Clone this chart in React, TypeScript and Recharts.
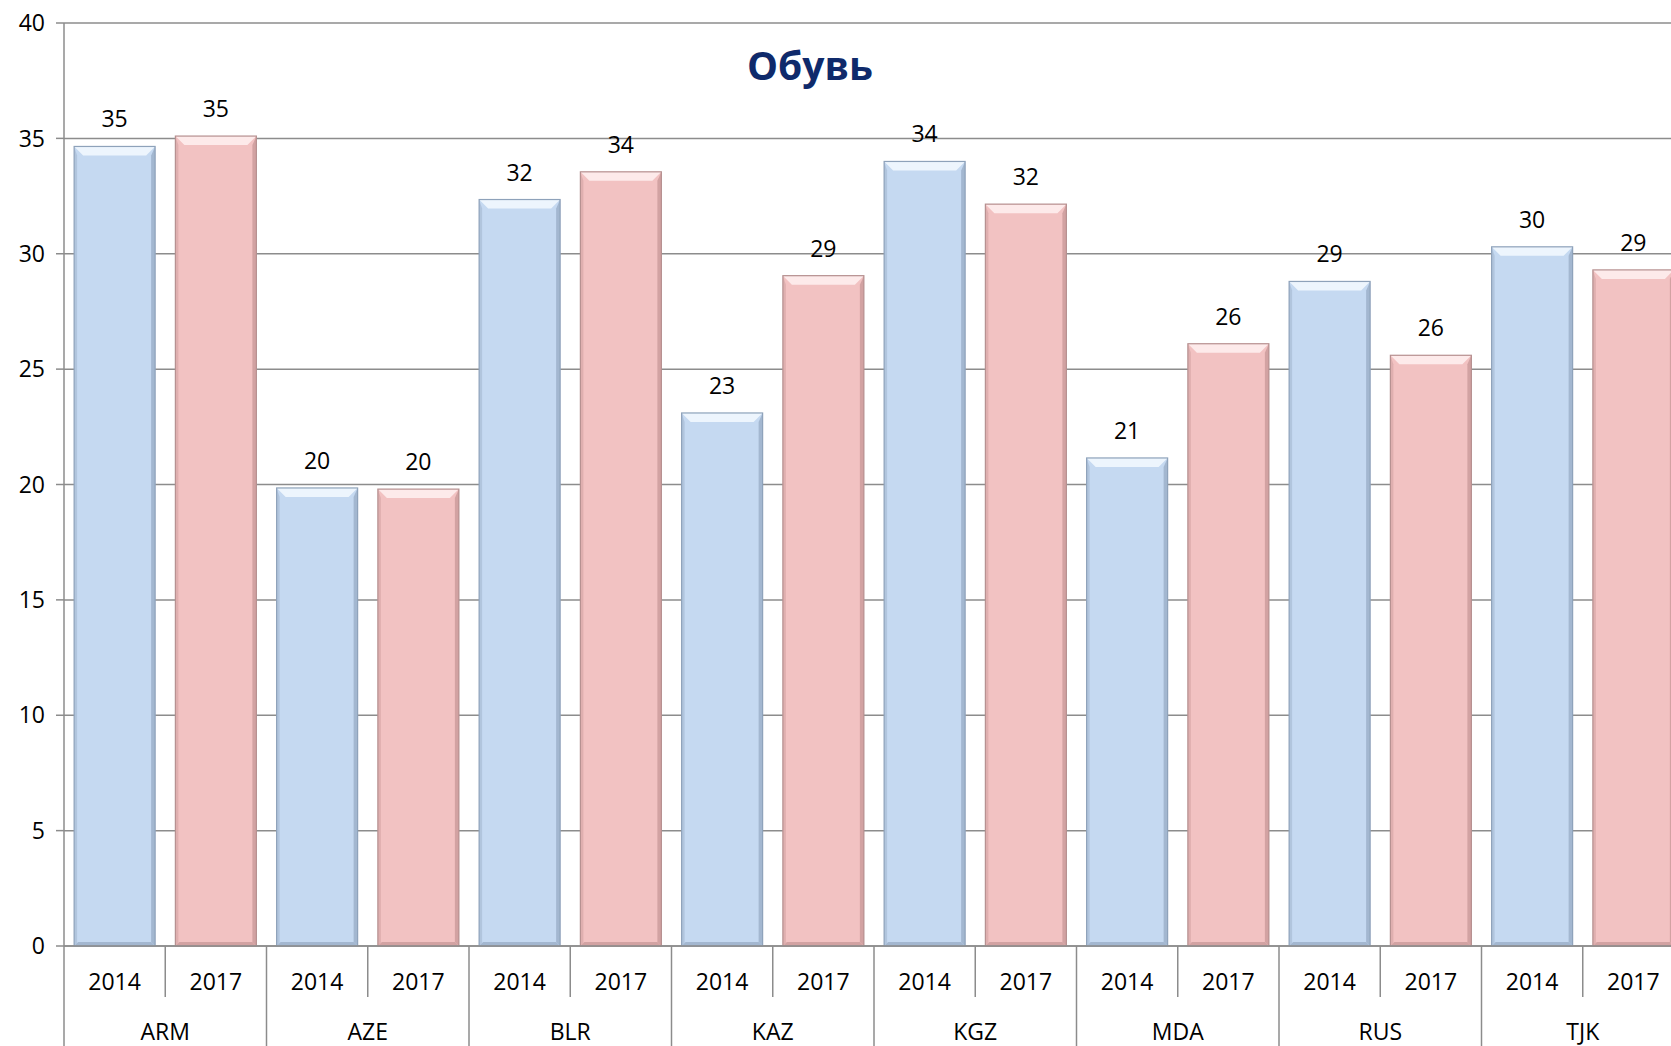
import React from "react";
import { BarChart, Bar, XAxis, YAxis, CartesianGrid, LabelList, Cell, Customized } from "recharts";

const countries = ["ARM", "ARM", "AZE", "AZE", "BLR", "BLR", "KAZ", "KAZ", "KGZ", "KGZ", "MDA", "MDA", "RUS", "RUS", "TJK", "TJK"];
const years = ["2014", "2017", "2014", "2017", "2014", "2017", "2014", "2017", "2014", "2017", "2014", "2017", "2014", "2017", "2014", "2017"];
const values = [34.65, 35.1, 19.85, 19.8, 32.35, 33.55, 23.1, 29.05, 34.0, 32.15, 21.15, 26.1, 28.8, 25.6, 30.3, 29.3];
const yTicks = [0, 5, 10, 15, 20, 25, 30, 35, 40];
const title = "Обувь";

const data = values.map((v, i) => ({ country: countries[i], year: years[i], value: v }));

const CHART_W = 1684;
const CHART_H = 1046;
const LEFT = 64;
const BAND = (CHART_W - LEFT) / values.length;
const FONT = "'Open Sans', 'Noto Sans', sans-serif";
const GRID = "#8c8c8c";

const palette: Record<string, { base: string; light: string; dark: string; edge: string }> = {
  "2014": { base: "#c5d9f1", light: "#edf5fd", dark: "#a3b7d0", edge: "#8ea2ba" },
  "2017": { base: "#f2c2c2", light: "#fdeaea", dark: "#d2a2a2", edge: "#b69090" },
};

const BevelBar = (props: any) => {
  const { x, y, width, height, payload } = props;
  if (!height || height <= 0) return null;
  const c = palette[payload.year];
  const b = 9;
  return (
    <g>
      <rect x={x} y={y} width={width} height={height} fill={c.base} />
      <polygon points={`${x},${y} ${x + width},${y} ${x + width - b},${y + b} ${x + b},${y + b}`} fill={c.light} />
      <polygon points={`${x + width},${y} ${x + width},${y + height} ${x + width - 4},${y + height - 4} ${x + width - 4},${y + b}`} fill={c.dark} />
      <polygon points={`${x},${y} ${x + 3},${y + b} ${x + 3},${y + height - 3} ${x},${y + height}`} fill={c.dark} opacity={0.6} />
      <polygon points={`${x},${y + height} ${x + width},${y + height} ${x + width - 4},${y + height - 4} ${x + 4},${y + height - 4}`} fill={c.dark} />
      <rect x={x} y={y} width={width} height={height} fill="none" stroke={c.edge} strokeWidth={1.2} />
    </g>
  );
};

const XTick = (props: any) => {
  const { x, y, index } = props;
  const i = index as number;
  const left = x - BAND / 2;
  const even = i % 2 === 0;
  return (
    <g>
      <line x1={left} y1={y} x2={left} y2={even ? y + 120 : y + 51} stroke={GRID} strokeWidth={1.5} />
      <text x={x} y={y + 44} textAnchor="middle" fontSize={23} fontFamily={FONT} fill="#000">
        {years[i]}
      </text>
      {even && (
        <text x={x + BAND / 2} y={y + 94} textAnchor="middle" fontSize={23} fontFamily={FONT} fill="#000">
          {countries[i]}
        </text>
      )}
      {i === values.length - 1 && (
        <line x1={x + BAND / 2} y1={y} x2={x + BAND / 2} y2={y + 120} stroke={GRID} strokeWidth={1.5} />
      )}
    </g>
  );
};

const Title = () => (
  <text x={810} y={80} textAnchor="middle" fontSize={39} fontWeight={700} fontFamily={FONT} fill="#0f2a6b">
    {title}
  </text>
);

export default function App() {
  return (
    <div style={{ position: "fixed", left: 0, top: 0, width: 1671, height: 1046, overflow: "hidden", background: "#fff" }}>
      <BarChart
        width={CHART_W}
        height={CHART_H}
        data={data}
        margin={{ top: 23, right: 0, bottom: 0, left: 0 }}
        barCategoryGap="10%"
      >
        <CartesianGrid vertical={false} stroke={GRID} strokeWidth={1.5} />
        <XAxis
          dataKey="year"
          height={100}
          tickLine={false}
          tickSize={0}
          tickMargin={0}
          interval={0}
          axisLine={{ stroke: GRID, strokeWidth: 1.5 }}
          tick={<XTick />}
        />
        <YAxis
          width={LEFT}
          domain={[0, 40]}
          ticks={yTicks}
          interval={0}
          tickSize={8}
          tickMargin={11}
          axisLine={{ stroke: GRID, strokeWidth: 1.5 }}
          tickLine={{ stroke: GRID, strokeWidth: 1.5 }}
          tick={{ fontSize: 23, fontFamily: FONT, fill: "#000" }}
        />
        <Bar dataKey="value" isAnimationActive={false} shape={<BevelBar />}>
          {data.map((d, i) => (
            <Cell key={i} fill={palette[d.year].base} />
          ))}
          <LabelList
            dataKey="value"
            position="top"
            offset={19}
            formatter={(v: any) => Math.round(Number(v))}
            style={{ fontSize: 23, fontFamily: FONT, fill: "#000" }}
          />
        </Bar>
        <Customized component={Title} />
      </BarChart>
    </div>
  );
}
